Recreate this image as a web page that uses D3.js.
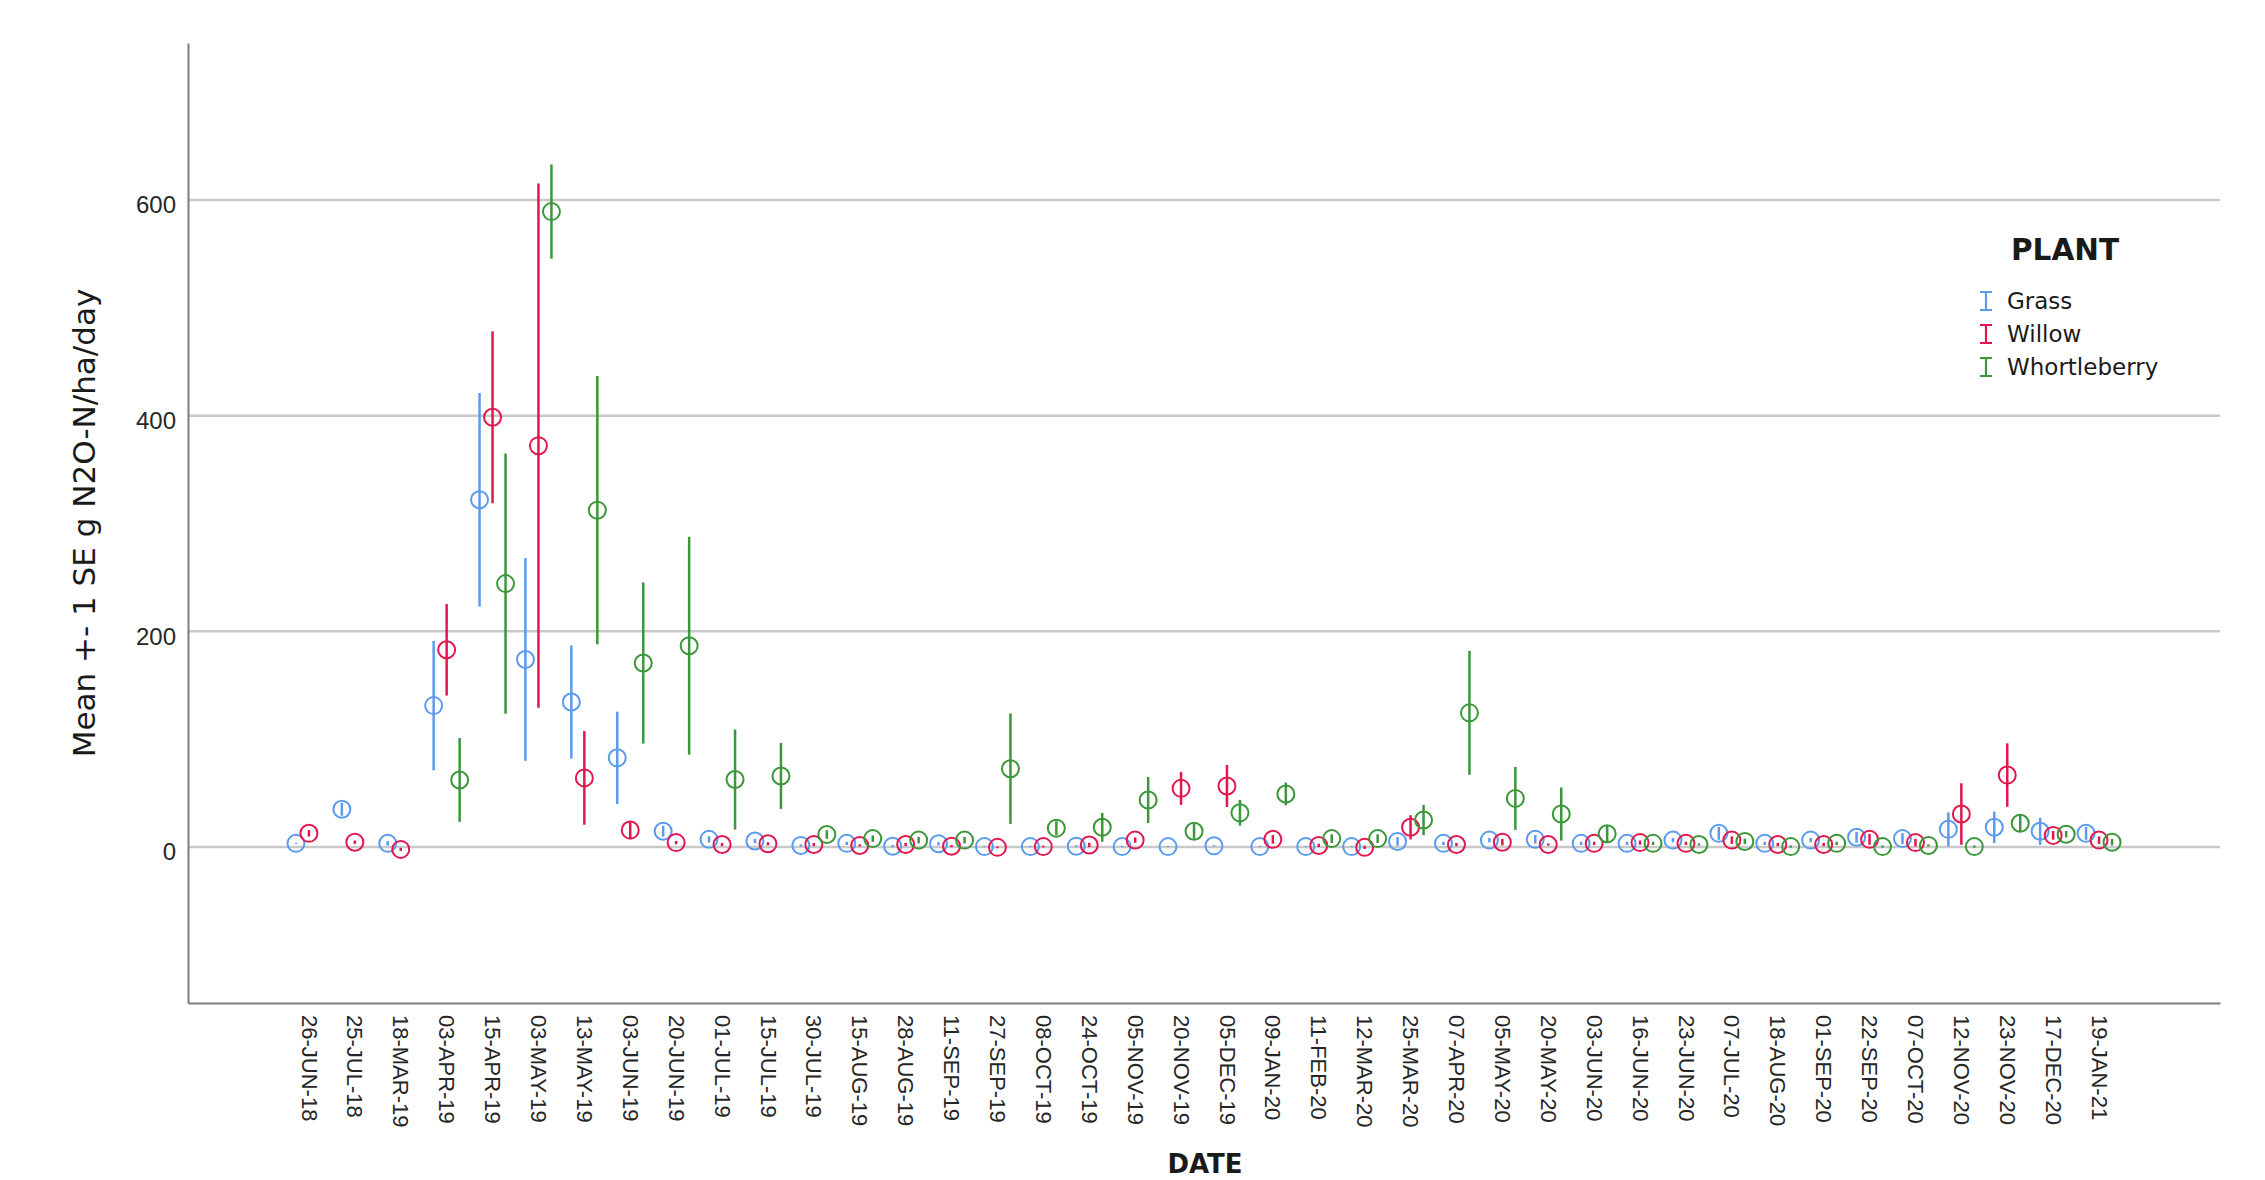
<!DOCTYPE html>
<html>
<head>
<meta charset="utf-8">
<script src="https://cdn.jsdelivr.net/npm/d3@7"></script>
<style>
  html, body { margin: 0; padding: 0; background: #ffffff; }
  svg { display: block; }
</style>
</head>
<body>
<svg id="chart" width="2265" height="1180"></svg>
<script>
// Sampling dates (category axis)
const dates = [
  "26-JUN-18","25-JUL-18","18-MAR-19","03-APR-19","15-APR-19","03-MAY-19","13-MAY-19","03-JUN-19",
  "20-JUN-19","01-JUL-19","15-JUL-19","30-JUL-19","15-AUG-19","28-AUG-19","11-SEP-19","27-SEP-19",
  "08-OCT-19","24-OCT-19","05-NOV-19","20-NOV-19","05-DEC-19","09-JAN-20","11-FEB-20","12-MAR-20",
  "25-MAR-20","07-APR-20","05-MAY-20","20-MAY-20","03-JUN-20","16-JUN-20","23-JUN-20","07-JUL-20",
  "18-AUG-20","01-SEP-20","22-SEP-20","07-OCT-20","12-NOV-20","23-NOV-20","17-DEC-20","19-JAN-21"
];

const plants = ["Grass", "Willow", "Whortleberry"];

// Mean N2O flux (g N2O-N/ha/day) per date
const grassMean = [3.0, 34.6, 3.0, 130.7, 321.5, 173.5, 134.0, 82.3, 14.2, 6.7, 5.2, 1.1, 3.0, 0.4, 2.6, 0.0,
  0.0, 0.4, 0.0, 0.0, 0.7, 0.0, 0.0, 0.0, 4.8, 3.0, 6.0, 6.7, 3.0, 3.0, 6.0, 12.3,
  3.0, 6.0, 8.6, 7.4, 16.0, 17.9, 14.2, 12.3];
const willowMean = [12.3, 4.1, -2.6, 182.5, 398.0, 371.7, 63.7, 15.3, 3.7, 1.9, 2.6, 1.9, 1.1, 1.9, 0.4, -0.7,
  0.0, 1.5, 6.0, 54.0, 56.2, 6.7, 1.1, -0.7, 17.9, 1.9, 4.1, 1.9, 3.0, 3.7, 3.0, 6.0,
  1.9, 1.9, 6.7, 3.7, 30.2, 66.3, 10.4, 6.0];
const whortleberryMean = [null, null, null, 61.8, 243.8, 588.7, 311.9, 170.2, 186.2, 62.2, 65.5, 11.2, 7.4, 6.0, 6.0, 72.2,
  17.1, 17.9, 43.2, 14.2, 31.3, 48.8, 7.4, 7.4, 24.6, 124.0, 44.7, 30.2, 11.9, 3.0, 1.9, 4.8,
  0.0, 3.0, 0.0, 1.1, 0.0, 21.6, 11.5, 4.1];

// Standard errors of the means
const grassSE = [0.5, 6, 2, 60, 99, 94, 52.5, 42.8, 5, 3, 2, 1, 1.5, 1, 1.5, 0.5,
  0.5, 0.8, 0.5, 0.5, 0.5, 0.5, 0.5, 0.5, 4, 1.5, 2, 4, 1.5, 1.5, 2, 6,
  1.5, 2, 5, 5, 15.8, 14.5, 12.5, 6];
const willowSE = [3, 1.5, 1.5, 42.5, 79.7, 243, 43.4, 8.4, 1.5, 1.5, 1.5, 1.5, 1, 1.5, 1, 0.8,
  0.8, 2, 2.5, 15.3, 19.5, 4, 1.5, 1.5, 11.2, 1.5, 3, 1, 1.5, 2, 1.5, 3.5,
  1.5, 1.5, 5, 3.5, 28.5, 29.4, 4, 3.5];
const whortleberrySE = [null, null, null, 38.9, 120.7, 43.7, 124.4, 74.7, 101, 46.4, 30.6, 4, 3, 3, 3, 51.2,
  6.5, 13.4, 21.4, 7, 11.9, 10.6, 4, 4, 14, 57.4, 29.2, 24.6, 8, 1.5, 1, 2.5,
  1, 1.5, 1, 1, 1, 7.4, 3, 3];

const yTicks = [0, 200, 400, 600];

const colors = { Grass: "#5b9bee", Willow: "#e2174d", Whortleberry: "#3a973a" };
const means = { Grass: grassMean, Willow: willowMean, Whortleberry: whortleberryMean };
const ses = { Grass: grassSE, Willow: willowSE, Whortleberry: whortleberrySE };

const svg = d3.select("#chart");
const W = 2265, H = 1180;
const plotLeft = 188, plotRight = 2220, plotTop = 43, plotBottom = 1003;

svg.append("rect").attr("width", W).attr("height", H).attr("fill", "#ffffff");

const x = d3.scalePoint().domain(dates).range([plotLeft, plotRight]).padding(2.635);
const y = d3.scaleLinear().domain([-145, 745]).range([plotBottom, plotTop]);
const dodge = d3.scalePoint().domain(plants).range([-13, 13]);

// Horizontal gridlines
svg.append("g")
  .attr("transform", `translate(${plotLeft},0)`)
  .call(d3.axisLeft(y).tickValues(yTicks).tickSize(-(plotRight - plotLeft)).tickFormat(""))
  .call(g => g.select(".domain").remove())
  .call(g => g.selectAll(".tick line").attr("stroke", "#c9c9c9").attr("stroke-width", 2.5));

// Y axis
svg.append("g")
  .attr("transform", `translate(${plotLeft},0)`)
  .call(d3.axisLeft(y).tickValues(yTicks).tickSize(0).tickSizeOuter(0).tickPadding(12))
  .call(g => g.select(".domain").attr("stroke", "#7d7d7d").attr("stroke-width", 2))
  .call(g => g.selectAll(".tick text")
    .attr("font-family", "'Liberation Sans', Arial, sans-serif")
    .attr("font-size", 24)
    .attr("fill", "#262626")
    .attr("dy", "0.55em"));

// X axis with vertical date labels
svg.append("g")
  .attr("transform", `translate(0,${plotBottom})`)
  .call(d3.axisBottom(x).tickSize(0).tickSizeOuter(0))
  .call(g => g.select(".domain").attr("stroke", "#7d7d7d").attr("stroke-width", 2))
  .call(g => g.selectAll(".tick text")
    .attr("font-family", "'Liberation Sans', Arial, sans-serif")
    .attr("font-size", 22)
    .attr("fill", "#262626")
    .attr("text-anchor", "start")
    .attr("transform", "rotate(90)")
    .attr("x", 12)
    .attr("y", 0)
    .attr("dy", "0.36em"));

// Axis titles
svg.append("text")
  .attr("transform", `translate(95,523) rotate(-90)`)
  .attr("text-anchor", "middle")
  .attr("font-family", "'DejaVu Sans', sans-serif")
  .attr("font-size", 31)
  .attr("fill", "#1a1a1a")
  .text("Mean +- 1 SE g N2O-N/ha/day");

svg.append("text")
  .attr("x", 1205)
  .attr("y", 1173)
  .attr("text-anchor", "middle")
  .attr("font-family", "'DejaVu Sans', sans-serif")
  .attr("font-weight", "bold")
  .attr("font-size", 26)
  .attr("fill", "#1a1a1a")
  .text("DATE");

// Error bars and mean markers
const rows = [];
plants.forEach(p => {
  dates.forEach((d, i) => {
    const m = means[p][i];
    if (m === null) return;
    rows.push({ plant: p, date: d, mean: m, se: ses[p][i] });
  });
});

const marks = svg.append("g");
marks.selectAll("line.err")
  .data(rows)
  .join("line")
  .attr("class", "err")
  .attr("x1", d => x(d.date) + dodge(d.plant))
  .attr("x2", d => x(d.date) + dodge(d.plant))
  .attr("y1", d => y(d.mean - d.se))
  .attr("y2", d => y(d.mean + d.se))
  .attr("stroke", d => colors[d.plant])
  .attr("stroke-width", 2.5);

marks.selectAll("circle.mean")
  .data(rows)
  .join("circle")
  .attr("class", "mean")
  .attr("cx", d => x(d.date) + dodge(d.plant))
  .attr("cy", d => y(d.mean))
  .attr("r", 8.5)
  .attr("fill", "none")
  .attr("stroke", d => colors[d.plant])
  .attr("stroke-width", 2);

// Legend
const legend = svg.append("g");
legend.append("text")
  .attr("x", 2065)
  .attr("y", 260)
  .attr("text-anchor", "middle")
  .attr("font-family", "'DejaVu Sans', sans-serif")
  .attr("font-weight", "bold")
  .attr("font-size", 29.5)
  .attr("fill", "#1a1a1a")
  .text("PLANT");

const items = legend.selectAll("g.item")
  .data(plants)
  .join("g")
  .attr("class", "item")
  .attr("transform", (d, i) => `translate(1986,${301 + i * 33})`);

items.append("path")
  .attr("d", "M-6,-9H6M0,-9V9M-6,9H6")
  .attr("fill", "none")
  .attr("stroke", d => colors[d])
  .attr("stroke-width", 2.2);

items.append("text")
  .attr("x", 21)
  .attr("y", 0)
  .attr("dy", "0.36em")
  .attr("font-family", "'DejaVu Sans', sans-serif")
  .attr("font-size", 23)
  .attr("fill", "#1a1a1a")
  .text(d => d);
</script>
</body>
</html>
